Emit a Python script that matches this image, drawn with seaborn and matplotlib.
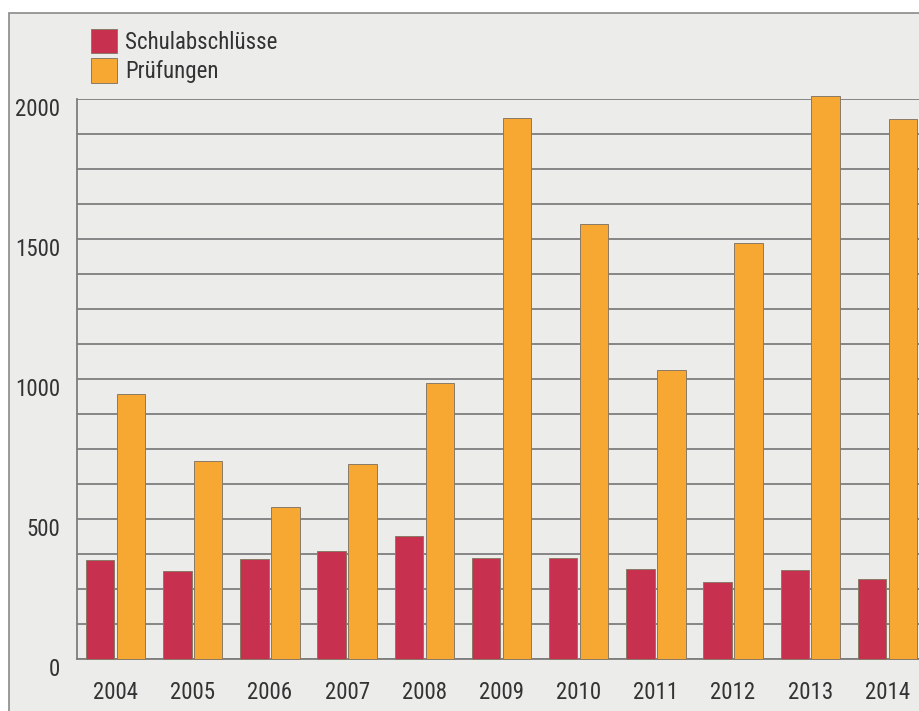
import matplotlib
matplotlib.use('Agg')
import matplotlib.pyplot as plt
import matplotlib.transforms as mtransforms
from matplotlib.patches import Rectangle
import pandas as pd
import seaborn as sns

# Daten
jahre = ['2004', '2005', '2006', '2007', '2008', '2009', '2010',
         '2011', '2012', '2013', '2014']
schulabschluesse = [354, 315, 356, 386, 440, 362, 360, 321, 274, 318, 285]
pruefungen = [945, 707, 544, 696, 986, 1933, 1552, 1032, 1487, 2011, 1927]
serien = ['Schulabschlüsse', 'Prüfungen']
farben = ['#c8304f', '#f6a833']

df = pd.DataFrame({
    'Jahr': jahre * 2,
    'Serie': [serien[0]] * len(jahre) + [serien[1]] * len(jahre),
    'Wert': schulabschluesse + pruefungen,
})

sns.set_style('white')
plt.rcParams['font.family'] = ['Roboto Condensed', 'Liberation Sans', 'DejaVu Sans']
plt.rcParams['font.stretch'] = 'condensed'

fig = plt.figure(figsize=(9.2, 7.11), dpi=100, facecolor='white')

# Rahmen im Hintergrund
rahmen = Rectangle((9 / 920, -0.1), 1.2, (1 - 13 / 711) + 0.1,
                   transform=fig.transFigure, facecolor='#ececea',
                   edgecolor='#8a8a8a', linewidth=1.2, zorder=-5)
fig.patches.append(rahmen)

ax = fig.add_axes([77 / 920, 1 - 659 / 711, 849 / 920, 560 / 711])
ax.set_facecolor('none')

sns.barplot(data=df, x='Jahr', y='Wert', hue='Serie', palette=farben,
            width=0.8, gap=0.08, edgecolor='#8a7a66', linewidth=0.7,
            saturation=1, ax=ax, zorder=3)

for p in ax.patches:
    p.set_clip_on(False)

ax.set_xlim(-0.5, 10.5)
ax.set_ylim(0, 2000)
ax.set_yticks([0, 500, 1000, 1500, 2000])
ax.set_yticks(range(0, 2001, 125), minor=True)
ax.set_xticks([i + 0.5 for i in range(10)], minor=True)
ax.grid(True, axis='y', which='both', color='#7e7e7e', linewidth=1.3, zorder=1)
ax.set_axisbelow(True)

ax.set_xlabel('')
ax.set_ylabel('')
for s in ['top', 'right']:
    ax.spines[s].set_visible(False)
for s in ['left', 'bottom']:
    ax.spines[s].set_color('#7e7e7e')
    ax.spines[s].set_linewidth(1.3)

ax.tick_params(axis='x', which='major', length=0, pad=16,
               labelsize=16.5, labelcolor='#333333')
ax.tick_params(axis='x', which='minor', direction='in', length=9,
               width=1.1, color='#555555')
ax.tick_params(axis='y', which='both', length=0, pad=12,
               labelsize=16.5, labelcolor='#333333')

verschiebung = mtransforms.ScaledTranslation(0, -8 / 100, fig.dpi_scale_trans)
for lab in ax.get_yticklabels():
    lab.set_transform(lab.get_transform() + verschiebung)

handles, labels = ax.get_legend_handles_labels()
ax.legend(handles, labels, loc='upper left',
          bbox_to_anchor=(91 / 920, 1 - 29 / 711),
          bbox_transform=fig.transFigure, frameon=False, fontsize=16.5,
          handlelength=1.14, handleheight=1.25, handletextpad=0.35,
          labelspacing=0.2, borderaxespad=0, borderpad=0,
          labelcolor='#333333')

fig.savefig('out.png', dpi=100, facecolor='white')
